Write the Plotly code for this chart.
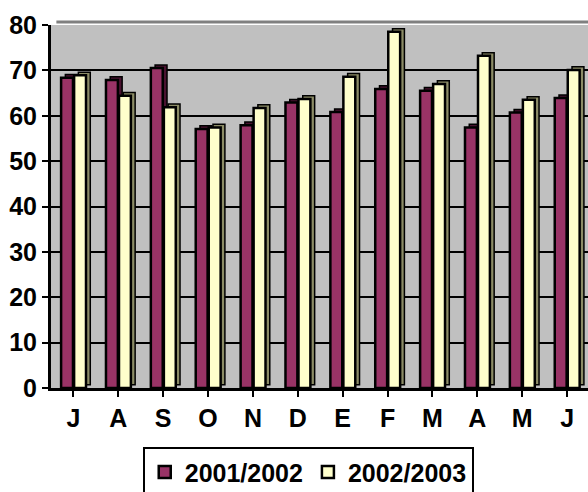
import plotly.graph_objects as go

months = ["J", "A", "S", "O", "N", "D", "E", "F", "M", "A", "M", "J"]
s2001 = [68.4, 67.9, 70.5, 57.1, 57.9, 62.9, 60.8, 65.9, 65.5, 57.4, 60.7, 63.9]
s2002 = [68.9, 64.4, 61.9, 57.4, 61.7, 63.7, 68.6, 78.5, 67.0, 73.2, 63.5, 70.1]
series_names = ["2001/2002", "2002/2003"]

x = list(range(len(months)))
DX = 0.095   # depth shift in category units
DY = 0.7     # depth shift in value units
W = 0.265

FONT = "Liberation Sans, Arial, sans-serif"

fig = go.Figure()

specs = [
    (s2001, series_names[0], "#993366", "#4a1230", -0.275),
    (s2002, series_names[1], "#FFFFCC", "#8c8c66", 0.015),
]
for vals, name, col, side, off in specs:
    fig.add_trace(go.Bar(
        x=x, y=vals, base=[DY] * len(vals), offset=off + DX, width=W,
        marker=dict(color=side, line=dict(color="black", width=1.5)),
        showlegend=False, hoverinfo="skip",
    ))
    fig.add_trace(go.Bar(
        x=x, y=vals, offset=off, width=W, name=name,
        marker=dict(color=col, line=dict(color="black", width=2.5)),
    ))

fig.update_layout(
    width=588, height=492,
    margin=dict(l=51, r=0, t=25, b=104, autoexpand=False),
    paper_bgcolor="white",
    plot_bgcolor="#C0C0C0",
    barmode="overlay",
    font=dict(family=FONT, size=25, color="black"),
    xaxis=dict(
        range=[-0.5, 11.466],
        tickmode="array", tickvals=x, ticktext=months,
        tickson="boundaries",
        ticks="outside", ticklen=6, tickwidth=2, tickcolor="black",
        showline=True, linecolor="black", linewidth=3,
        showgrid=False, zeroline=False,
        tickfont=dict(family=FONT, size=25, weight="bold"),
        ticklabelstandoff=0,
        automargin=False,
    ),
    yaxis=dict(
        range=[0, 80], tickvals=[0, 10, 20, 30, 40, 50, 60, 70, 80],
        ticks="outside", ticklen=6, tickwidth=2, tickcolor="black",
        showline=True, linecolor="black", linewidth=3,
        showgrid=True, gridcolor="black", gridwidth=2,
        zeroline=False,
        tickfont=dict(family=FONT, size=25, weight="bold"),
        automargin=False,
    ),
    legend=dict(
        orientation="h", x=0.479, xanchor="center", y=-0.163, yanchor="top",
        bordercolor="black", borderwidth=2, bgcolor="white",
        font=dict(family=FONT, size=25, weight="bold"),
        itemwidth=30, tracegroupgap=0,
    ),
    shapes=[
        dict(type="line", xref="paper", yref="paper", x0=0.01, x1=1, y0=1.008, y1=1.008,
             line=dict(color="#808080", width=3), layer="below"),
    ],
)

fig.write_html(
    "out.html",
    config={"displayModeBar": False},
    post_script="document.body.style.margin='0';document.body.style.overflow='hidden';",
)
